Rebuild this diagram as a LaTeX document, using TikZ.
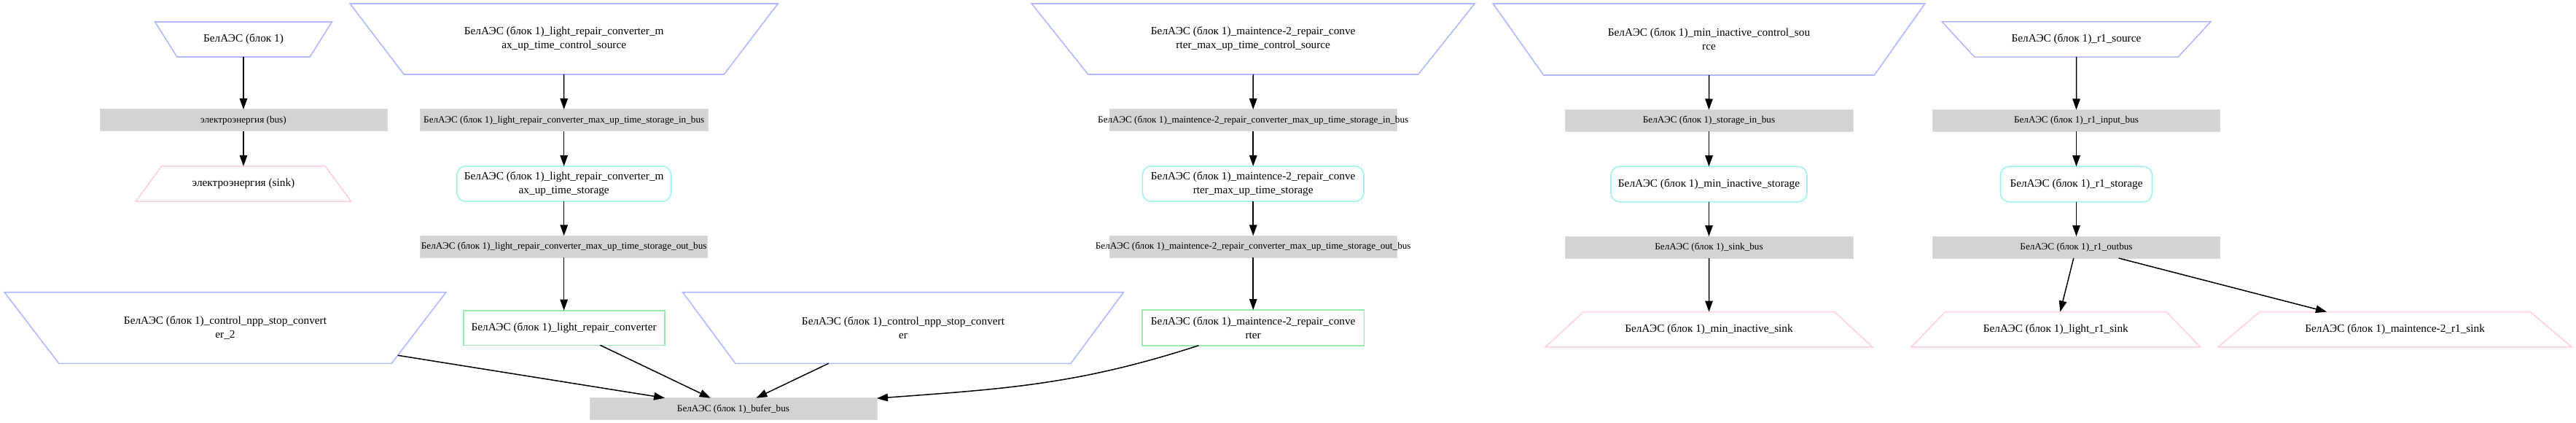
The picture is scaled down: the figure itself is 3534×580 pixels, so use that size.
\documentclass[tikz,border=0pt]{standalone}
\usepackage{fontspec}
\setmainfont{Liberation Serif}
\usetikzlibrary{shapes.geometric,arrows.meta}
\definecolor{srcc}{RGB}{176,184,255}
\definecolor{snkc}{RGB}{255,208,220}
\definecolor{stoc}{RGB}{160,240,240}
\definecolor{cnvc}{RGB}{150,235,170}
\definecolor{busc}{RGB}{211,211,211}
\definecolor{busd}{RGB}{220,220,220}
\newcommand{\bz}[1]{\makebox[0pt]{#1}}
\begin{document}
\begin{tikzpicture}[x=1pt,y=1pt,
 every node/.style={outer sep=0pt, inner sep=2pt, font=\fontsize{15.3}{19}\selectfont, align=center},
 src/.style={trapezium, shape border rotate=180, trapezium stretches=true, draw=srcc, line width=1.6pt, minimum height=97pt},
 snk/.style={trapezium, trapezium stretches=true, draw=snkc, line width=1.6pt, minimum height=48.3pt},
 bus/.style={rectangle, fill=busc, draw=busd, line width=1pt, minimum width=394pt, minimum height=30pt, font=\fontsize{13.2}{16}\selectfont},
 sto/.style={rectangle, rounded corners=12pt, draw=stoc, line width=1.6pt, minimum height=48.3pt},
 cnv/.style={rectangle, draw=cnvc, line width=1.6pt, minimum height=48pt},
 edge/.style={-{Triangle[length=15pt,width=10.5pt]}, line width=1.5pt, black}]
\useasboundingbox (0,0) rectangle (3534,-580);

% column 1
\node[src, minimum height=48pt, minimum width=243pt, trapezium angle=44] (s1) at (334,-54) {БелАЭС (блок 1)};
\node[bus] (b1) at (334,-165) {\bz{электроэнергия (bus)}};
\node[snk, minimum width=296pt, trapezium angle=38.1] (k1) at (334,-252) {электроэнергия (sink)};

% column 2
\node[src, minimum width=588.7pt, trapezium angle=38.5] (s2) at (773.7,-53.5) {БелАЭС (блок 1)\_light\_repair\_converter\_m\\ax\_up\_time\_control\_source};
\node[bus, minimum width=395pt] (b2in) at (773.7,-165) {\bz{БелАЭС (блок 1)\_light\_repair\_converter\_max\_up\_time\_storage\_in\_bus}};
\node[sto, minimum width=294pt] (st2) at (773.7,-252) {БелАЭС (блок 1)\_light\_repair\_converter\_m\\ax\_up\_time\_storage};
\node[bus] (b2out) at (773.7,-338.3) {\bz{БелАЭС (блок 1)\_light\_repair\_converter\_max\_up\_time\_storage\_out\_bus}};
\node[cnv, minimum width=276pt, minimum height=47.6pt] (c2) at (773.7,-449.5) {БелАЭС (блок 1)\_light\_repair\_converter};

% control sources and buffer bus
\node[src, minimum height=97.6pt, minimum width=606pt, trapezium angle=37.9] (cs2) at (309,-449.5) {БелАЭС (блок 1)\_control\_npp\_stop\_convert\\er\_2};
\node[src, minimum height=97.6pt, minimum width=607.6pt, trapezium angle=37.6] (cs) at (1239,-449.5) {БелАЭС (блок 1)\_control\_npp\_stop\_convert\\er};
\node[bus] (buf) at (1006,-560.7) {\bz{БелАЭС (блок 1)\_bufer\_bus}};

% column 3
\node[src, minimum width=610pt, trapezium angle=37.4] (s3) at (1719.2,-53.5) {БелАЭС (блок 1)\_maintence-2\_repair\_conve\\rter\_max\_up\_time\_control\_source};
\node[bus] (b3in) at (1719.2,-165) {\bz{БелАЭС (блок 1)\_maintence-2\_repair\_converter\_max\_up\_time\_storage\_in\_bus}};
\node[sto, minimum width=303.6pt] (st3) at (1719.2,-252) {БелАЭС (блок 1)\_maintence-2\_repair\_conve\\rter\_max\_up\_time\_storage};
\node[bus] (b3out) at (1719.2,-338.3) {\bz{БелАЭС (блок 1)\_maintence-2\_repair\_converter\_max\_up\_time\_storage\_out\_bus}};
\node[cnv, minimum width=304.6pt, minimum height=48.7pt] (c3) at (1719.2,-449.4) {БелАЭС (блок 1)\_maintence-2\_repair\_conve\\rter};

% column 4
\node[src, minimum height=98pt, minimum width=594pt, trapezium angle=38.4] (s4) at (2344.5,-54) {БелАЭС (блок 1)\_min\_inactive\_control\_sou\\rce};
\node[bus, minimum width=395pt] (b4in) at (2344.5,-165.5) {\bz{БелАЭС (блок 1)\_storage\_in\_bus}};
\node[sto, minimum width=269pt, minimum height=48.5pt] (st4) at (2344.5,-252.5) {БелАЭС (блок 1)\_min\_inactive\_storage};
\node[bus, minimum width=395pt] (b4s) at (2344.5,-339) {\bz{БелАЭС (блок 1)\_sink\_bus}};
\node[snk, minimum width=449.6pt, trapezium angle=27.1] (k4) at (2344.5,-451.7) {БелАЭС (блок 1)\_min\_inactive\_sink};

% column 5
\node[src, minimum height=48.3pt, minimum width=369pt, trapezium angle=32.1] (s5) at (2848.5,-54) {БелАЭС (блок 1)\_r1\_source};
\node[bus, minimum width=394.7pt] (b5in) at (2848.5,-165.5) {\bz{БелАЭС (блок 1)\_r1\_input\_bus}};
\node[sto, minimum width=208pt, minimum height=48.5pt] (st5) at (2848.5,-252.5) {БелАЭС (блок 1)\_r1\_storage};
\node[bus, minimum width=394.7pt] (b5out) at (2848.5,-339) {\bz{БелАЭС (блок 1)\_r1\_outbus}};
\node[snk, minimum width=398pt, trapezium angle=30.3] (k5a) at (2820.3,-451.7) {БелАЭС (блок 1)\_light\_r1\_sink};
\node[snk, minimum width=487.6pt, trapezium angle=25.3] (k5b) at (3285.6,-451.7) {БелАЭС (блок 1)\_maintence-2\_r1\_sink};

% edges
\draw[edge] (s1) -- (b1);
\draw[edge] (b1) -- (k1);
\draw[edge] (s2) -- (b2in);
\draw[edge] (b2in) -- (st2);
\draw[edge] (st2) -- (b2out);
\draw[edge] (b2out) -- (c2);
\draw[edge] (cs2) -- (buf);
\draw[edge] (c2) -- (buf);
\draw[edge] (cs) -- (buf);
\draw[edge] (c3) to[out=198, in=4.5] (buf);
\draw[edge] (s3) -- (b3in);
\draw[edge] (b3in) -- (st3);
\draw[edge] (st3) -- (b3out);
\draw[edge] (b3out) -- (c3);
\draw[edge] (s4) -- (b4in);
\draw[edge] (b4in) -- (st4);
\draw[edge] (st4) -- (b4s);
\draw[edge] (b4s) -- (k4);
\draw[edge] (s5) -- (b5in);
\draw[edge] (b5in) -- (st5);
\draw[edge] (st5) -- (b5out);
\draw[edge] (b5out) -- (k5a);
\draw[edge] (b5out) -- (k5b);
\end{tikzpicture}
\end{document}
